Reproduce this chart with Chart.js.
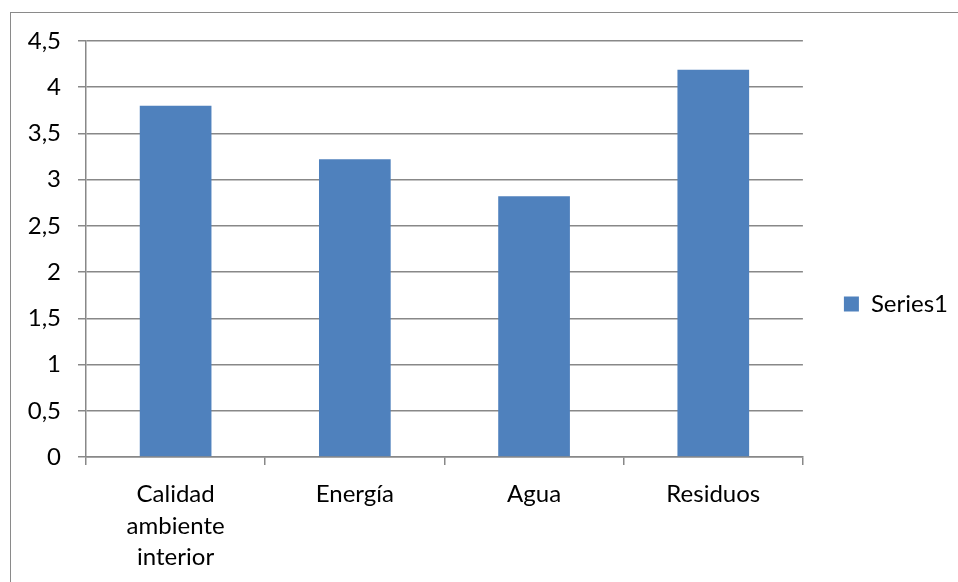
<!DOCTYPE html>
<html lang="es">
<head>
<meta charset="UTF-8">
<title>Series1</title>
<script src="https://cdn.jsdelivr.net/npm/chart.js"></script>
<style>
    html, body {
        margin: 0;
        padding: 0;
        background: #fff;
        overflow: hidden;
    }
    .frame {
        position: absolute;
        left: 10px;
        top: 12px;
        width: 1000px;
        height: 700px;
        border: 1.5px solid #8a8a8a;
    }
    .wrap {
        position: absolute;
        left: 0;
        top: 0;
        width: 958px;
        height: 582px;
    }
</style>
</head>
<body>
<div class="frame"></div>
<div class="wrap"><canvas id="chart" width="958" height="582"></canvas></div>
<script>
    const categories = [['Calidad', 'ambiente', 'interior'], 'Energía', 'Agua', 'Residuos'];
    const series1 = [3.8, 3.22, 2.82, 4.19];
    const yTicks = [0, 0.5, 1, 1.5, 2, 2.5, 3, 3.5, 4, 4.5];

    const gridColor = '#888888';
    const font = { family: 'Lato, "Open Sans", sans-serif', size: 24 };

    new Chart(document.getElementById('chart'), {
        type: 'bar',
        data: {
            labels: categories,
            datasets: [{
                label: 'Series1',
                data: series1,
                backgroundColor: '#4F81BD',
                borderWidth: 0,
                categoryPercentage: 0.4,
                barPercentage: 1
            }]
        },
        options: {
            responsive: false,
            animation: false,
            layout: { padding: { top: 41, left: 0, right: 0, bottom: 15 } },
            plugins: {
                tooltip: { enabled: false },
                legend: {
                    position: 'right',
                    labels: {
                        boxWidth: 15,
                        boxHeight: 15,
                        padding: 41,
                        color: '#000',
                        font: font
                    }
                }
            },
            scales: {
                x: {
                    // tall enough that the third line of the first label is not clipped
                    afterFit: s => { s.height = 110; },
                    grid: {
                        drawOnChartArea: false,
                        drawTicks: true,
                        tickLength: 8,
                        color: gridColor,
                        lineWidth: 1.5
                    },
                    border: { color: gridColor, width: 1.5 },
                    ticks: {
                        color: '#000',
                        font: { ...font, lineHeight: 1.3 },
                        padding: 14,
                        maxRotation: 0,
                        autoSkip: false
                    }
                },
                y: {
                    min: 0,
                    max: 4.5,
                    afterFit: s => { s.width = 86; },
                    afterBuildTicks: s => { s.ticks = yTicks.map(v => ({ value: v })); },
                    grid: {
                        color: gridColor,
                        lineWidth: 1.5,
                        tickLength: 8
                    },
                    border: { color: gridColor, width: 1.5 },
                    ticks: {
                        color: '#000',
                        font: font,
                        padding: 17,
                        callback: v => String(v).replace('.', ',')
                    }
                }
            }
        }
    });
</script>
</body>
</html>
